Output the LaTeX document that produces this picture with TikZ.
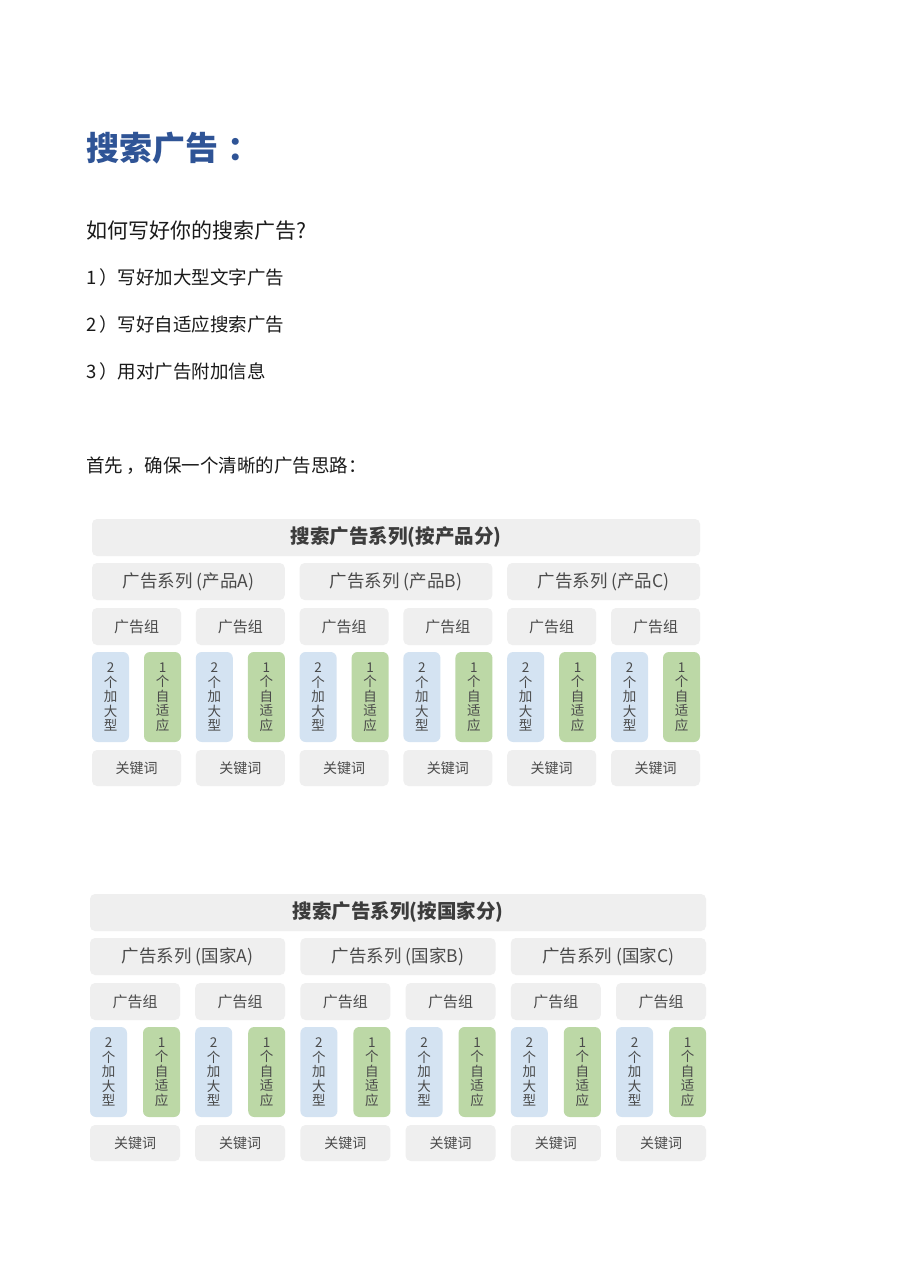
\documentclass[tikz,border=0pt]{standalone}
\usepackage{fontspec}
\setmainfont{Noto Sans CJK SC}
\definecolor{titleblue}{HTML}{2F5496}
\definecolor{boxgray}{HTML}{EFEFEF}
\definecolor{adblue}{HTML}{D4E3F2}
\definecolor{adgreen}{HTML}{BCD8A6}
\definecolor{txtgray}{HTML}{4A4A4A}
\definecolor{headtxt}{HTML}{3C3C3C}
\definecolor{bodytxt}{HTML}{1A1A1A}
\tikzset{
  x=1pt, y=-1pt,
  base/.style={inner sep=0pt, outer sep=0pt, anchor=north west},
  graybox/.style={base, fill=boxgray, rounded corners=5pt, text=txtgray},
  bluebox/.style={base, fill=adblue, rounded corners=6pt, text=txtgray, align=center,
    font=\fontsize{13.5}{14.6}\selectfont},
  greenbox/.style={base, fill=adgreen, rounded corners=6pt, text=txtgray, align=center,
    font=\fontsize{13.5}{14.6}\selectfont},
  bodytext/.style={inner sep=0pt, anchor=west, text=bodytxt},
}
% #1 id, #2 x0, #3 pitch, #4 group width, #5 y top, #6 title, #7 campaign word
\newcommand\drawplan[7]{%
  \pgfmathsetmacro\tw{5*#3+#4}
  \node[graybox, minimum width=\tw pt, minimum height=37pt,
        font=\fontsize{19.5}{22}\selectfont\bfseries, text=headtxt] (#1title) at (#2,#5) {#6};
  \foreach \k/\L in {0/A,1/B,2/C}{
    \pgfmathsetmacro\cx{#2+2*\k*#3}
    \pgfmathsetmacro\cw{#3+#4}
    \node[graybox, minimum width=\cw pt, minimum height=37pt,
          font=\fontsize{17.5}{20}\selectfont] (#1camp\k) at (\cx,#5+44) {广告系列 (#7\L)};
  }
  \foreach \i in {0,...,5}{
    \pgfmathsetmacro\gx{#2+\i*#3}
    \pgfmathsetmacro\gg{\gx+#4-37}
    \node[graybox, minimum width=#4 pt, minimum height=37pt,
          font=\fontsize{15}{18}\selectfont] (#1grp\i) at (\gx,#5+89) {广告组};
    \node[bluebox, minimum width=37pt, minimum height=90pt] (#1big\i) at (\gx,#5+133)
      {2\\个\\加\\大\\型};
    \node[greenbox, minimum width=37pt, minimum height=90pt] (#1rsa\i) at (\gg,#5+133)
      {1\\个\\自\\适\\应};
    \node[graybox, minimum width=#4 pt, minimum height=36pt,
          font=\fontsize{14}{17}\selectfont] (#1kw\i) at (\gx,#5+231) {关键词};
  }
}
\begin{document}
\begin{tikzpicture}
\useasboundingbox[fill=white] (0,0) rectangle (900,1273);
\node[bodytext, text=titleblue, font=\fontsize{33}{38}\selectfont\bfseries] (title) at (86,148) {搜索广告\kern9pt：};
\node[bodytext, font=\fontsize{21}{24}\selectfont] (q) at (86,231) {如何写好你的搜索广告?};
\node[bodytext, font=\fontsize{18.5}{22}\selectfont] (i1) at (86,277) {1\kern3pt）写好加大型文字广告};
\node[bodytext, font=\fontsize{18.5}{22}\selectfont] (i2) at (86,324) {2\kern3pt）写好自适应搜索广告};
\node[bodytext, font=\fontsize{18.5}{22}\selectfont] (i3) at (86,371) {3\kern3pt）用对广告附加信息};
\node[bodytext, font=\fontsize{18.5}{21}\selectfont] (first) at (86,466) {首先\kern3pt，确保一个清晰的广告思路：};
\drawplan{p}{92}{103.8}{89}{519}{搜索广告系列(按产品分)}{产品}
\drawplan{c}{90}{105.2}{90}{894}{搜索广告系列(按国家分)}{国家}
\end{tikzpicture}
\end{document}
